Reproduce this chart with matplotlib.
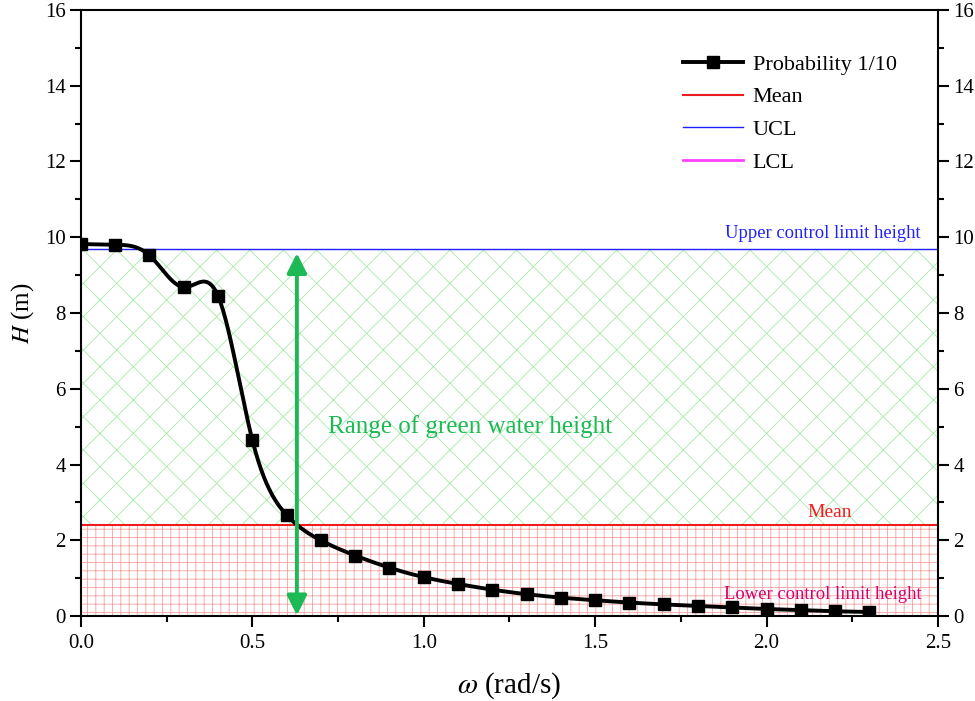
import matplotlib
matplotlib.use("Agg")
import matplotlib.pyplot as plt
import numpy as np

# data
omega = [0.0, 0.1, 0.2, 0.3, 0.4, 0.5, 0.6, 0.7, 0.8, 0.9, 1.0, 1.1,
         1.2, 1.3, 1.4, 1.5, 1.6, 1.7, 1.8, 1.9, 2.0, 2.1, 2.2, 2.3]
height = [9.82, 9.80, 9.52, 8.68, 8.45, 4.65, 2.67, 2.00, 1.60, 1.28, 1.03, 0.85,
          0.70, 0.58, 0.49, 0.42, 0.36, 0.31, 0.27, 0.23, 0.19, 0.16, 0.13, 0.11]
mean_h = 2.40
ucl_h = 9.68
lcl_h = 0.0
arrow_x = 0.63

plt.rcParams["font.family"] = ["Liberation Serif", "DejaVu Serif"]
plt.rcParams["mathtext.fontset"] = "stix"


def natural_spline(x, y, n=600):
    """Natural cubic spline through the points, for drawing a smooth line."""
    x = np.asarray(x, float)
    y = np.asarray(y, float)
    k = len(x)
    h = np.diff(x)
    A = np.zeros((k, k))
    r = np.zeros(k)
    A[0, 0] = A[-1, -1] = 1.0
    for i in range(1, k - 1):
        A[i, i - 1] = h[i - 1]
        A[i, i] = 2 * (h[i - 1] + h[i])
        A[i, i + 1] = h[i]
        r[i] = 3 * ((y[i + 1] - y[i]) / h[i] - (y[i] - y[i - 1]) / h[i - 1])
    c = np.linalg.solve(A, r)
    b = np.diff(y) / h - h * (2 * c[:-1] + c[1:]) / 3
    d = np.diff(c) / (3 * h)
    xs = np.linspace(x[0], x[-1], n)
    idx = np.clip(np.searchsorted(x, xs) - 1, 0, k - 2)
    t = xs - x[idx]
    ys = y[idx] + b[idx] * t + c[idx] * t ** 2 + d[idx] * t ** 3
    return xs, ys


fig = plt.figure(figsize=(9.75, 7.01), dpi=100)
ax = fig.add_axes([0.083, 0.121, 0.879, 0.865])

# hatched bands
plt.rcParams["hatch.linewidth"] = 0.6
ax.fill_between([0, 2.5], mean_h, ucl_h, facecolor="none",
                edgecolor="#a8eaa8", hatch="x", linewidth=0)
ax.fill_between([0, 2.5], lcl_h, mean_h, facecolor="none",
                edgecolor="#f7a0a0", hatch="++", linewidth=0)

ax.axhline(mean_h, color="#ee1c1c", lw=1.5, label="Mean")
ax.axhline(ucl_h, color="#2020ff", lw=1.0, label="UCL")
ax.axhline(lcl_h, color="#ff40ff", lw=2.0, label="LCL")

xs, ys = natural_spline(omega, height)
ax.plot(xs, ys, color="black", lw=2.8, zorder=5)
ax.plot(omega, height, "s", color="black", ms=8.5, zorder=6)
line_proxy, = ax.plot([], [], "-s", color="black", lw=2.8, ms=8.5, label="Probability 1/10")

ax.annotate("", xy=(arrow_x, 0.02), xytext=(arrow_x, ucl_h - 0.1),
            arrowprops=dict(arrowstyle="<|-|>,head_length=0.6,head_width=0.3",
                            color="#1db954", lw=2.8, mutation_scale=20,
                            shrinkA=0, shrinkB=0), zorder=7)
ax.text(0.72, 5.0, "Range of green water height", color="#1db954",
        fontsize=18, va="center", ha="left")
ax.text(2.45, ucl_h + 0.2, "Upper control limit height", color="#2020ff",
        fontsize=13.4, ha="right", va="bottom")
ax.text(2.185, mean_h + 0.12, "Mean", color="#ee1c1c", fontsize=14,
        ha="center", va="bottom")
ax.text(2.453, 0.35, "Lower control limit height", color="#d6006e",
        fontsize=13.4, ha="right", va="bottom")

ax.set_xlim(0, 2.5)
ax.set_ylim(0, 16)
ax.set_xticks(np.arange(0, 2.51, 0.5))
ax.set_xticks(np.arange(0, 2.51, 0.25), minor=True)
ax.set_yticks(np.arange(0, 16.1, 2))
ax.set_yticks(np.arange(0, 16.1, 1), minor=True)
ax.xaxis.set_major_formatter(matplotlib.ticker.FormatStrFormatter("%.1f"))

ax.tick_params(which="both", direction="out", labelsize=15, width=1.5,
               left=True, right=True, labelright=True, top=False)
ax.tick_params(which="major", length=8, pad=5)
ax.tick_params(which="minor", length=4)
ax.tick_params(axis="y", which="major", pad=3)
for s in ax.spines.values():
    s.set_linewidth(1.5)

ax.set_xlabel(r"$\omega$ (rad/s)", fontsize=21, labelpad=12)
ax.set_ylabel(r"$H$ (m)", fontsize=18, labelpad=6)

handles = [line_proxy] + ax.get_lines()[0:3]
ax.legend(handles=handles, loc="upper right", bbox_to_anchor=(0.975, 0.96),
          frameon=False, fontsize=16, handlelength=2.7, handletextpad=0.45,
          labelspacing=0.55)

fig.savefig("out.png", dpi=100)
